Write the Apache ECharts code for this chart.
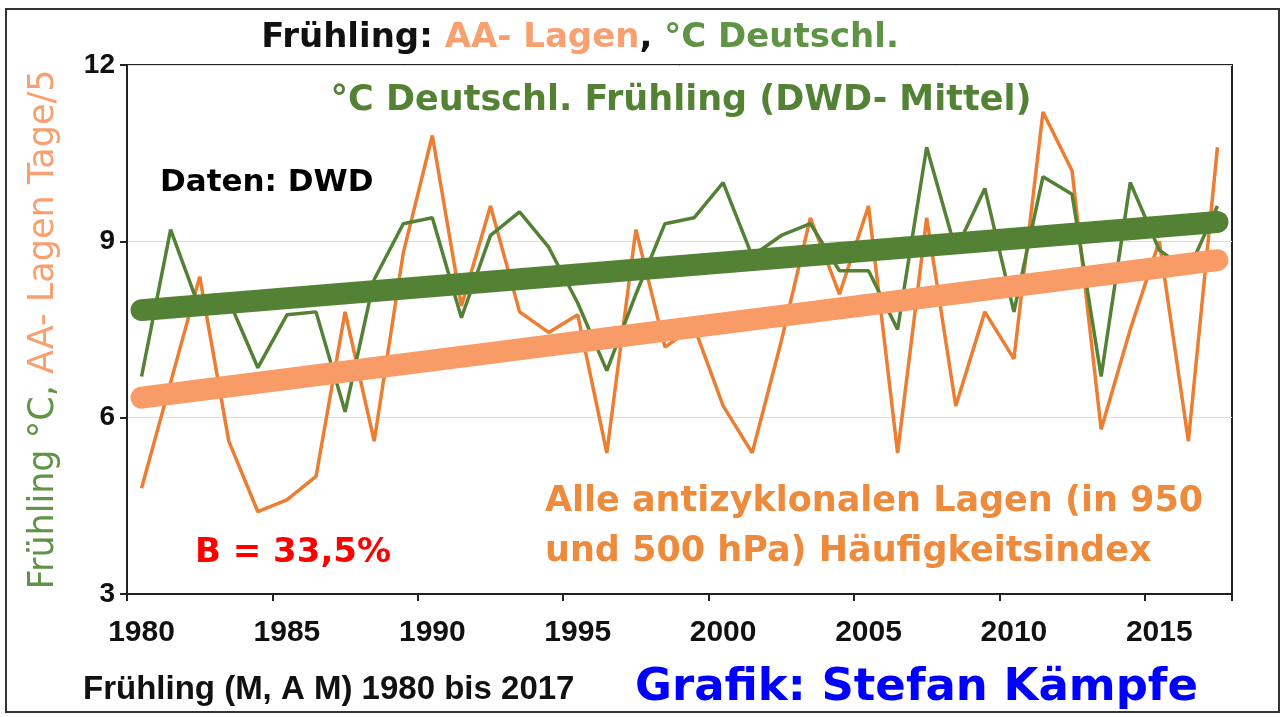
<!DOCTYPE html>
<html>
<head>
<meta charset="utf-8">
<script src="https://cdn.jsdelivr.net/npm/echarts@6/dist/echarts.min.js"></script>
<style>
  html, body { margin: 0; padding: 0; background: #fff; }
  #chart { width: 1285px; height: 717px; }
</style>
</head>
<body>
<div id="chart"></div>
<script>
const years = ['1980','1981','1982','1983','1984','1985','1986','1987','1988','1989',
    '1990','1991','1992','1993','1994','1995','1996','1997','1998','1999',
    '2000','2001','2002','2003','2004','2005','2006','2007','2008','2009',
    '2010','2011','2012','2013','2014','2015','2016','2017'];

// Frühlingsmittel Deutschland, °C
const tempDE = [6.7, 9.2, 7.85, 8.0, 6.85, 7.75, 7.8, 6.1, 8.35, 9.3,
    9.4, 7.7, 9.1, 9.5, 8.9, 7.95, 6.8, 8.1, 9.3, 9.4,
    10.0, 8.75, 9.1, 9.3, 8.5, 8.5, 7.5, 10.6, 8.85, 9.9,
    7.8, 10.1, 9.8, 6.7, 10.0, 8.85, 8.5, 9.6];

// antizyklonale Lagen, Tage/5
const aaLagen = [4.8, 6.6, 8.4, 5.6, 4.4, 4.6, 5.0, 7.8, 5.6, 8.8,
    10.8, 7.9, 9.6, 7.8, 7.45, 7.75, 5.4, 9.2, 7.2, 7.55,
    6.2, 5.4, 7.3, 9.4, 8.1, 9.6, 5.4, 9.4, 6.2, 7.8,
    7.0, 11.2, 10.2, 5.8, 7.5, 9.0, 5.6, 10.6];

// trend lines, start and end values
const tempTrend = [7.83, 9.33];
const aaTrend = [6.34, 8.68];

const yTicks = [3, 6, 9, 12];

const GREEN = '#548235';
const ORANGE = '#ED7D31';
const LIGHT_OR = '#F8A070';
const FONT = '"Liberation Sans", Arial, sans-serif';
const WIDE = '"DejaVu Sans", sans-serif';

const chart = echarts.init(document.getElementById('chart'), null, { renderer: 'canvas' });

function trendData(arr) {
    return [[years[0], arr[0]], [years[years.length - 1], arr[1]]];
}

const option = {
    backgroundColor: '#fff',
    animation: false,
    grid: {
        left: 127, right: 53, top: 65, bottom: 123,
        show: true, borderColor: '#222', borderWidth: 2
    },
    xAxis: {
        type: 'category',
        data: years,
        boundaryGap: true,
        axisLine: { lineStyle: { color: '#222', width: 2 } },
        axisTick: { show: true, interval: 4, length: 7, lineStyle: { color: '#222', width: 2 } },
        axisLabel: { interval: 4, margin: 24, color: '#111', fontSize: 30, fontWeight: 'bold', fontFamily: FONT },
        splitLine: { show: false }
    },
    yAxis: {
        type: 'value',
        min: yTicks[0], max: yTicks[yTicks.length - 1], interval: 3,
        name: '{g|Frühling °C, }{o|AA- Lagen Tage/5}',
        nameLocation: 'middle',
        nameRotate: 90,
        nameGap: 66,
        nameTextStyle: {
            rich: {
                g: { color: '#5E9444', fontSize: 35, fontFamily: WIDE },
                o: { color: LIGHT_OR, fontSize: 35, fontFamily: WIDE }
            }
        },
        axisLine: { show: true, lineStyle: { color: '#222', width: 2 } },
        axisTick: { show: true, length: 7, lineStyle: { color: '#222', width: 2 } },
        axisLabel: { margin: 12, color: '#111', fontSize: 28, fontWeight: 'bold', fontFamily: FONT },
        splitLine: { show: true, lineStyle: { color: '#DDDDDD', width: 1 } }
    },
    series: [
        {
            name: 'AA- Lagen', type: 'line', data: aaLagen, symbol: 'none',
            lineStyle: { color: ORANGE, width: 3.5 }, z: 2
        },
        {
            name: '°C Deutschl.', type: 'line', data: tempDE, symbol: 'none',
            lineStyle: { color: GREEN, width: 3.5 }, z: 3
        },
        {
            name: 'Trend AA', type: 'line', data: trendData(aaTrend), symbol: 'none',
            lineStyle: { color: '#F99B66', width: 22, cap: 'round' }, z: 4
        },
        {
            name: 'Trend °C', type: 'line', data: trendData(tempTrend), symbol: 'none',
            lineStyle: { color: GREEN, width: 22, cap: 'round' }, z: 5
        }
    ],
    graphic: [
        {
            type: 'rect', z: 0, silent: true,
            shape: { x: 6, y: 9, width: 1273, height: 703 },
            style: { fill: 'none', stroke: '#333', lineWidth: 2 }
        },
        {
            type: 'text', x: 580, y: 38, z: 10,
            style: {
                text: '{k|Frühling: }{o|AA- Lagen}{k|, }{g|°C Deutschl.}',
                align: 'center', verticalAlign: 'middle',
                rich: {
                    k: { fill: '#111', fontSize: 34, fontWeight: 'bold', fontFamily: WIDE },
                    o: { fill: LIGHT_OR, fontSize: 34, fontWeight: 'bold', fontFamily: WIDE },
                    g: { fill: '#5E9444', fontSize: 34, fontWeight: 'bold', fontFamily: WIDE }
                }
            }
        },
        {
            type: 'text', x: 681, y: 101, z: 10,
            style: {
                text: '°C Deutschl. Frühling (DWD- Mittel)',
                align: 'center', verticalAlign: 'middle',
                fill: GREEN, font: 'bold 35px ' + WIDE
            }
        },
        {
            type: 'text', x: 160, y: 183, z: 10,
            style: {
                text: 'Daten: DWD', align: 'left', verticalAlign: 'middle',
                fill: '#000', font: 'bold 31px ' + WIDE
            }
        },
        {
            type: 'text', x: 195, y: 553, z: 10,
            style: {
                text: 'B = 33,5%', align: 'left', verticalAlign: 'middle',
                fill: '#FF0000', font: 'bold 34px ' + WIDE
            }
        },
        {
            type: 'text', x: 545, y: 502, z: 10,
            style: {
                text: 'Alle antizyklonalen Lagen (in 950', align: 'left', verticalAlign: 'middle',
                fill: '#EE8A3C', font: 'bold 35px ' + WIDE
            }
        },
        {
            type: 'text', x: 545, y: 552, z: 10,
            style: {
                text: 'und 500 hPa) Häufigkeitsindex', align: 'left', verticalAlign: 'middle',
                fill: '#EE8A3C', font: 'bold 35px ' + WIDE
            }
        },
        {
            type: 'text', x: 83, y: 690, z: 10,
            style: {
                text: 'Frühling (M, A M) 1980 bis 2017', align: 'left', verticalAlign: 'middle',
                fill: '#111', font: 'bold 33px ' + FONT
            }
        },
        {
            type: 'text', x: 635, y: 688, z: 10,
            style: {
                text: 'Grafik: Stefan Kämpfe', align: 'left', verticalAlign: 'middle',
                fill: '#0000FF', font: 'bold 45px ' + WIDE
            }
        }
    ]
};

chart.setOption(option);
</script>
</body>
</html>
